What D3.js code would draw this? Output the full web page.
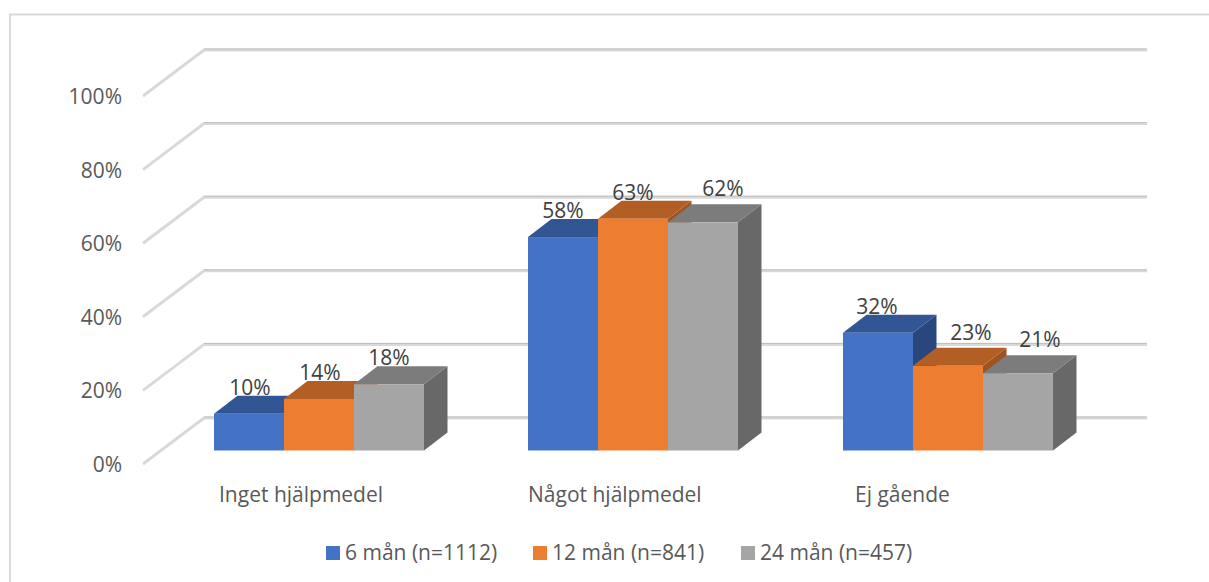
<!DOCTYPE html>
<html>
<head>
<meta charset="utf-8">
<script src="https://cdn.jsdelivr.net/npm/d3@7/dist/d3.min.js"></script>
<style>
  html, body { margin: 0; padding: 0; background: #fff; }
  svg { display: block; }
  text { font-family: "Open Sans", "Noto Sans", sans-serif; fill: #595959; }
  .value { fill: #404040; }
</style>
</head>
<body>
<svg id="chart" width="1209" height="582"></svg>
<script>
// Chart content
const categories = ["Inget hjälpmedel", "Något hjälpmedel", "Ej gående"];
const seriesNames = ["6 mån (n=1112)", "12 mån (n=841)", "24 mån (n=457)"];
const months6 = [10, 58, 32];
const months12 = [14, 63, 23];
const months24 = [18, 62, 21];
const yTicks = [0, 20, 40, 60, 80, 100];

// Face colours per series: front, top, side
const frontColors = ["#4472c4", "#ed7d31", "#a5a5a5"];
const topColors = ["#325594", "#b25e25", "#7c7c7c"];
const sideColors = ["#29477c", "#9e5320", "#686868"];

// Hand placement of value labels, by series then category (offset from the bar's front top centre)
const labelDx = [[1, 0, -1], [1, 0, 23], [0, 20, 22]];
const seriesValues = [months6, months12, months24];
const svg = d3.select("#chart");
const fontSize = 21;

// Frame
svg.append("path")
  .attr("d", "M10,582V14.5H1209")
  .attr("fill", "none").attr("stroke", "#d9d9d9").attr("stroke-width", 2);

// Oblique projection: value axis on the front wall edge, depth goes up and right
const wall = { dx: 61, dy: -46 };
const frontX = 143, frontZeroY = 464, wallEndX = 1147;
const y = d3.scaleLinear().domain([0, 100]).range([0, -368]);

// Gridlines along the side wall and the back wall
const grid = svg.append("g");
const gridLine = d3.line();
yTicks.forEach(t => {
  const yy = frontZeroY + y(t);
  const pts = [[frontX, yy], [frontX + wall.dx, yy + wall.dy], [wallEndX, yy + wall.dy]];
  grid.append("path").attr("d", gridLine(pts))
    .attr("fill", "none").attr("stroke", "#d9d9d9").attr("stroke-width", 3);
  grid.append("path").attr("d", gridLine(pts.slice(1)))
    .attr("fill", "none").attr("stroke", "#bfbfbf").attr("stroke-width", 1)
    .attr("transform", "translate(0,-1)");
});

// Value axis labels
svg.append("g").selectAll("text").data(yTicks).join("text")
  .attr("x", 122)
  .attr("y", t => frontZeroY + y(t) + 8)
  .attr("text-anchor", "end")
  .attr("font-size", fontSize)
  .text(t => t + "%");

// Bars sit part way into the depth of the floor
const barBaseY = 450.5;
const depth = { dx: 23.5, dy: -18 };
const groupX = d3.scaleOrdinal().domain(categories).range([214, 528, 843]);
const barW = 70;
const seriesX = d3.scaleBand().domain(d3.range(seriesNames.length))
  .range([0, barW * seriesNames.length]);

const poly = pts => d3.line()(pts) + "Z";

categories.forEach((cat, ci) => {
  const g = svg.append("g");
  // Left to right, so each bar covers the side face of the one before it
  seriesNames.forEach((_, si) => {
    const v = seriesValues[si][ci];
    const x0 = groupX(cat) + seriesX(si);
    const x1 = x0 + seriesX.bandwidth();
    const top = barBaseY + y(v);
    g.append("path").attr("fill", sideColors[si]).attr("d", poly([
      [x1, barBaseY], [x1, top], [x1 + depth.dx, top + depth.dy], [x1 + depth.dx, barBaseY + depth.dy]
    ]));
    g.append("path").attr("fill", topColors[si]).attr("d", poly([
      [x0, top], [x1, top], [x1 + depth.dx, top + depth.dy], [x0 + depth.dx, top + depth.dy]
    ]));
    g.append("rect").attr("x", x0).attr("y", top)
      .attr("width", x1 - x0).attr("height", barBaseY - top)
      .attr("fill", frontColors[si]);
  });
});

// Value labels: directly over the bar, or over the depth face when a taller bar is adjacent
categories.forEach((cat, ci) => {
  seriesNames.forEach((_, si) => {
    const v = seriesValues[si][ci];
    const dx = labelDx[si][ci];
    svg.append("text").attr("class", "value")
      .attr("x", groupX(cat) + seriesX(si) + barW / 2 + dx)
      .attr("y", barBaseY + y(v) + (dx > 10 ? -26 : -19))
      .attr("text-anchor", "middle")
      .attr("font-size", fontSize)
      .text(v + "%");
  });
});

// Category labels
const catLabelX = d3.scaleOrdinal().domain(categories).range([219, 528, 855]);
svg.append("g").selectAll("text").data(categories).join("text")
  .attr("x", d => catLabelX(d))
  .attr("y", 502)
  .attr("font-size", fontSize)
  .text(d => d);

// Legend
const legendX = d3.scaleOrdinal().domain(seriesNames).range([326, 533, 741]);
const legend = svg.append("g").selectAll("g").data(seriesNames).join("g")
  .attr("transform", d => `translate(${legendX(d)},0)`);
legend.append("rect").attr("y", 546).attr("width", 14).attr("height", 14)
  .attr("fill", (d, i) => frontColors[i]);
legend.append("text").attr("x", 19).attr("y", 560)
  .attr("font-size", fontSize).text(d => d);
</script>
</body>
</html>
